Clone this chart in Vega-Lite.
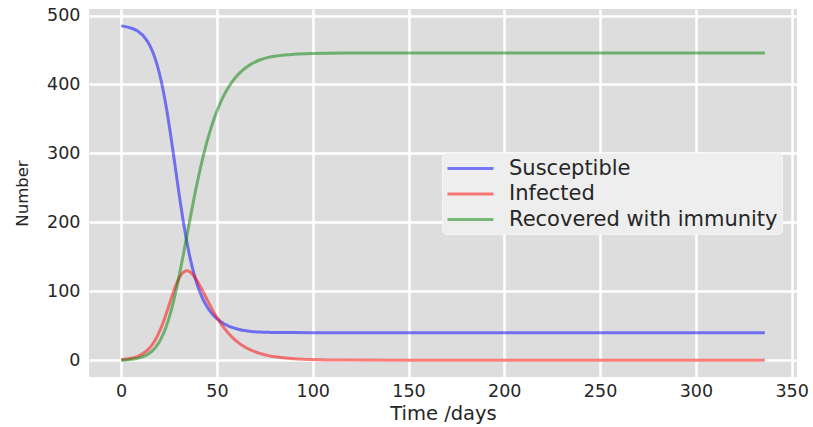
{
  "$schema": "https://vega.github.io/schema/vega-lite/v6.json",
  "width": 708,
  "height": 368,
  "autosize": {"type": "none"},
  "padding": {"left": 89, "top": 9, "right": 16, "bottom": 50},
  "background": "white",
  "config": {
    "view": {"fill": "#dddddd", "stroke": null},
    "font": "DejaVu Sans",
    "axis": {
      "domain": false,
      "ticks": false,
      "grid": true,
      "gridColor": "white",
      "gridWidth": 2.5,
      "labelFont": "DejaVu Sans",
      "titleFont": "DejaVu Sans",
      "labelColor": "#262626",
      "titleColor": "#262626",
      "titleFontWeight": "normal"
    }
  },
  "data": {
    "values": [
      {"t": 0, "S": 485, "I": 1.0, "R": 0},
      {"t": 3.9, "S": 482.8, "I": 2.3, "R": 0.8},
      {"t": 8.4, "S": 477.8, "I": 5.4, "R": 2.7},
      {"t": 12.9, "S": 465.8, "I": 12.7, "R": 7.1},
      {"t": 14.7, "S": 457.8, "I": 17.5, "R": 10.1},
      {"t": 16.5, "S": 447.0, "I": 23.8, "R": 14.4},
      {"t": 17.4, "S": 440.4, "I": 27.7, "R": 17.0},
      {"t": 18.3, "S": 432.8, "I": 32.0, "R": 20.1},
      {"t": 19.2, "S": 424.2, "I": 36.9, "R": 23.6},
      {"t": 20.1, "S": 414.5, "I": 42.4, "R": 27.7},
      {"t": 21.0, "S": 403.7, "I": 48.3, "R": 32.4},
      {"t": 21.9, "S": 391.7, "I": 54.8, "R": 37.7},
      {"t": 22.8, "S": 378.6, "I": 61.7, "R": 43.7},
      {"t": 23.7, "S": 364.3, "I": 69.1, "R": 50.4},
      {"t": 24.6, "S": 349.0, "I": 76.6, "R": 57.9},
      {"t": 25.5, "S": 332.8, "I": 84.3, "R": 66.2},
      {"t": 26.4, "S": 315.9, "I": 91.9, "R": 75.3},
      {"t": 27.3, "S": 298.5, "I": 99.2, "R": 85.1},
      {"t": 28.2, "S": 280.8, "I": 106.1, "R": 95.7},
      {"t": 29.1, "S": 263.1, "I": 112.3, "R": 106.9},
      {"t": 30.0, "S": 245.6, "I": 117.8, "R": 118.8},
      {"t": 30.9, "S": 228.6, "I": 122.2, "R": 131.2},
      {"t": 31.8, "S": 212.3, "I": 125.7, "R": 143.9},
      {"t": 32.7, "S": 196.7, "I": 128.1, "R": 157.0},
      {"t": 33.6, "S": 182.1, "I": 129.4, "R": 170.3},
      {"t": 34.5, "S": 168.5, "I": 129.7, "R": 183.6},
      {"t": 35.4, "S": 155.9, "I": 128.9, "R": 197.0},
      {"t": 36.3, "S": 144.4, "I": 127.3, "R": 210.2},
      {"t": 37.2, "S": 133.9, "I": 124.9, "R": 223.2},
      {"t": 38.1, "S": 124.4, "I": 121.8, "R": 235.9},
      {"t": 39.0, "S": 115.8, "I": 118.1, "R": 248.3},
      {"t": 39.9, "S": 108.0, "I": 114.0, "R": 260.2},
      {"t": 40.8, "S": 101.0, "I": 109.6, "R": 271.8},
      {"t": 41.7, "S": 94.8, "I": 105.0, "R": 282.8},
      {"t": 42.6, "S": 89.2, "I": 100.1, "R": 293.4},
      {"t": 43.5, "S": 84.2, "I": 95.3, "R": 303.5},
      {"t": 44.4, "S": 79.7, "I": 90.3, "R": 313.0},
      {"t": 45.3, "S": 75.6, "I": 85.5, "R": 322.1},
      {"t": 46.2, "S": 72.0, "I": 80.7, "R": 330.6},
      {"t": 47.1, "S": 68.7, "I": 76.0, "R": 338.7},
      {"t": 48.0, "S": 65.8, "I": 71.5, "R": 346.3},
      {"t": 48.9, "S": 63.2, "I": 67.1, "R": 353.4},
      {"t": 49.8, "S": 60.8, "I": 62.9, "R": 360.1},
      {"t": 50.7, "S": 58.7, "I": 58.9, "R": 366.4},
      {"t": 51.6, "S": 56.8, "I": 55.1, "R": 372.3},
      {"t": 52.5, "S": 55.0, "I": 51.4, "R": 377.8},
      {"t": 53.4, "S": 53.4, "I": 48.0, "R": 382.9},
      {"t": 54.3, "S": 52.0, "I": 44.7, "R": 387.7},
      {"t": 56.1, "S": 49.6, "I": 38.8, "R": 396.4},
      {"t": 57.9, "S": 47.6, "I": 33.6, "R": 403.8},
      {"t": 59.7, "S": 46.0, "I": 28.9, "R": 410.2},
      {"t": 61.5, "S": 44.6, "I": 24.9, "R": 415.7},
      {"t": 63.3, "S": 43.5, "I": 21.4, "R": 420.4},
      {"t": 67.8, "S": 41.8, "I": 14.6, "R": 429.5},
      {"t": 72.3, "S": 40.9, "I": 9.9, "R": 435.5},
      {"t": 76.8, "S": 40.5, "I": 6.7, "R": 439.3},
      {"t": 81.3, "S": 40.3, "I": 4.6, "R": 441.5},
      {"t": 90.3, "S": 40.1, "I": 2.0, "R": 444.0},
      {"t": 99.3, "S": 40.0, "I": 1.0, "R": 445.0},
      {"t": 117.3, "S": 40.0, "I": 0.2, "R": 445.6},
      {"t": 150, "S": 40.0, "I": 0.05, "R": 445.8},
      {"t": 200, "S": 40.0, "I": 0, "R": 445.8},
      {"t": 250, "S": 40.0, "I": 0, "R": 445.8},
      {"t": 300, "S": 40.0, "I": 0, "R": 445.8},
      {"t": 336, "S": 40.0, "I": 0, "R": 445.8}
    ]
  },
  "transform": [{"fold": ["S", "I", "R"], "as": ["series", "value"]}],
  "mark": {"type": "line", "strokeWidth": 3, "opacity": 0.5, "interpolate": "monotone"},
  "encoding": {
    "x": {
      "field": "t",
      "type": "quantitative",
      "scale": {"domain": [-16.8, 352.8], "nice": false, "zero": false},
      "axis": {
        "values": [0, 50, 100, 150, 200, 250, 300, 350],
        "title": "Time /days",
        "labelFontSize": 17.5,
        "titleFontSize": 19.5,
        "labelPadding": 5,
        "titlePadding": 5,
        "labelFlush": false
      }
    },
    "y": {
      "field": "value",
      "type": "quantitative",
      "scale": {"domain": [-24.3, 509.5], "nice": false, "zero": false},
      "axis": {
        "values": [0, 100, 200, 300, 400, 500],
        "title": "Number",
        "labelFontSize": 17.5,
        "titleFontSize": 16.5,
        "labelPadding": 9,
        "titlePadding": 16
      }
    },
    "color": {
      "field": "series",
      "type": "nominal",
      "scale": {"domain": ["S", "I", "R"], "range": ["blue", "red", "green"]},
      "legend": {
        "orient": "none",
        "legendX": 353,
        "legendY": 144,
        "title": null,
        "labelExpr": "{'S': 'Susceptible', 'I': 'Infected', 'R': 'Recovered with immunity'}[datum.label]",
        "fillColor": "#eeeeee",
        "strokeColor": "#f4f4f4",
        "cornerRadius": 4,
        "padding": 4,
        "symbolType": "M-1,0L3.6,0",
        "symbolSize": 400,
        "symbolStrokeWidth": 3,
        "symbolOpacity": 0.5,
        "labelFontSize": 21,
        "labelFont": "DejaVu Sans",
        "labelColor": "#262626",
        "labelOffset": 40,
        "labelLimit": 400,
        "rowPadding": 3.5
      }
    }
  }
}
